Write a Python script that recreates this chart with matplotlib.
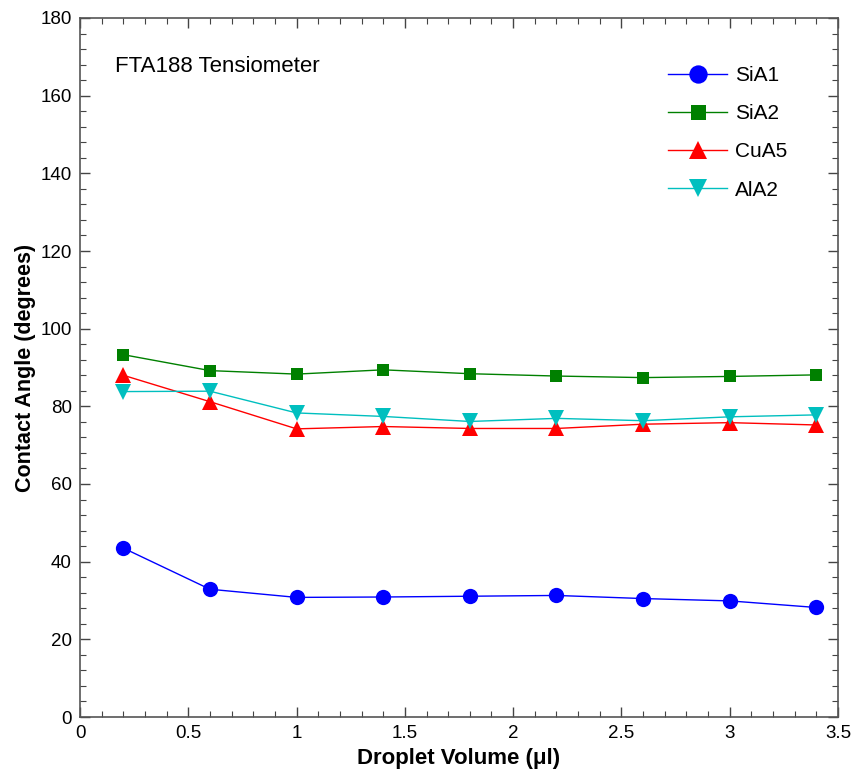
import matplotlib
matplotlib.use("Agg")
import matplotlib.pyplot as plt
from matplotlib.ticker import MultipleLocator

plt.rcParams['font.family'] = ['Liberation Sans', 'DejaVu Sans']

volume = [0.2, 0.6, 1.0, 1.4, 1.8, 2.2, 2.6, 3.0, 3.4]
sia1 = [43.5, 32.9, 30.8, 30.9, 31.1, 31.3, 30.5, 29.9, 28.2]
sia2 = [93.3, 89.2, 88.3, 89.4, 88.4, 87.8, 87.4, 87.7, 88.1]
cua5 = [88.0, 81.2, 74.2, 74.8, 74.3, 74.3, 75.4, 75.8, 75.2]
ala2 = [83.8, 83.9, 78.3, 77.4, 76.1, 76.9, 76.3, 77.3, 77.8]

series = [
    ("SiA1", sia1, "#0000ff", "o", 11),
    ("SiA2", sia2, "#008000", "s", 9),
    ("CuA5", cua5, "#ff0000", "^", 11),
    ("AlA2", ala2, "#00bfbf", "v", 11),
]

fig = plt.figure(figsize=(8.54, 7.72), dpi=100)
ax = fig.add_axes([80/854, 1-717/772, (838-80)/854, (717-18)/772])

for name, vals, col, mk, ms in series:
    ax.plot(volume, vals, color=col, marker=mk, markersize=ms, linewidth=1,
            markeredgewidth=0, label=name)

ax.set_xlim(0, 3.5)
ax.set_ylim(0, 180)
ax.xaxis.set_minor_locator(MultipleLocator(0.1))
ax.yaxis.set_major_locator(MultipleLocator(20))
ax.yaxis.set_minor_locator(MultipleLocator(4))
ax.set_xticks([0, 0.5, 1, 1.5, 2, 2.5, 3, 3.5])
ax.set_xticklabels(["0", "0.5", "1", "1.5", "2", "2.5", "3", "3.5"])
ax.tick_params(which='both', direction='in', top=True, right=True, labelsize=13.5, color='#444444')
ax.tick_params(which='major', length=7, width=1, pad=6)
ax.tick_params(which='minor', length=4, width=0.8)
for s in ax.spines.values():
    s.set_color('#555555')
    s.set_linewidth(1.2)

ax.set_xlabel("Droplet Volume (\u03bcl)", fontsize=16, fontweight='bold', labelpad=4)
ax.set_ylabel("Contact Angle (degrees)", fontsize=15.5, fontweight='bold', labelpad=3)

ax.text(0.162, 167.6, "FTA188 Tensiometer", fontsize=16, va='center', ha='left')

ax.legend(loc='upper left', frameon=False, fontsize=15, handlelength=2.85,
          handletextpad=0.35, labelspacing=0.92, borderpad=0, borderaxespad=0,
          markerscale=1.2,
          bbox_to_anchor=((668-80)/758, (717-66)/699))

fig.savefig("out.png", dpi=100)
